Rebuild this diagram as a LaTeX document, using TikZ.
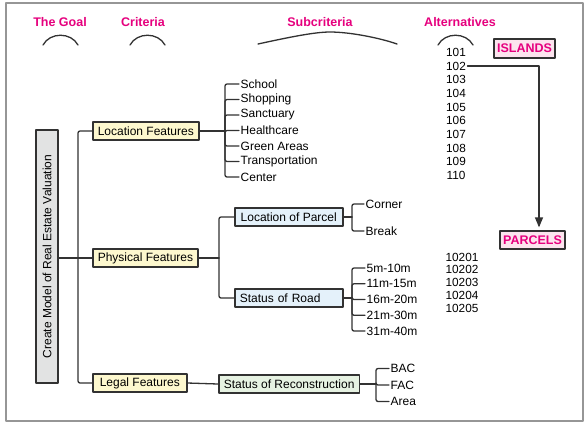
\documentclass[tikz,border=0pt]{standalone}
\usepackage{fontspec}
\setmainfont{Liberation Sans}
\usepackage{tikz}
\usetikzlibrary{arrows}
\definecolor{headpink}{RGB}{230,0,126}
\definecolor{boxline}{RGB}{50,50,50}
\definecolor{framegray}{RGB}{150,150,150}
\definecolor{goalfill}{RGB}{226,227,227}
\definecolor{critfill}{RGB}{253,248,206}
\definecolor{subfill}{RGB}{228,241,250}
\definecolor{recfill}{RGB}{230,242,226}
\definecolor{tagfill}{RGB}{252,228,238}
\tikzset{
  box/.style={draw=boxline, line width=1.5pt, inner xsep=5pt, inner ysep=0pt,
    minimum height=18pt, anchor=west, font=\fontsize{12}{14}\selectfont},
  leaf/.style={inner xsep=1.5pt, inner ysep=0pt, anchor=west,
    font=\fontsize{12}{14}\selectfont},
  num/.style={inner xsep=1.5pt, inner ysep=0pt, font=\fontsize{11.8}{14}\selectfont},
  head/.style={text=headpink, font=\bfseries\fontsize{12.5}{15}\selectfont},
  tag/.style={draw=boxline, fill=tagfill, line width=1.5pt, inner xsep=3pt,
    inner ysep=0pt, minimum height=19pt, text=headpink,
    font=\bfseries\fontsize{12.5}{15}\selectfont},
  link/.style={draw=boxline, line width=1.3pt},
}
\begin{document}
\begin{tikzpicture}[line cap=round,line join=round,>=triangle 45,x=1pt,y=-1pt]
\useasboundingbox (0,0) rectangle (585,424);
\fill[white] (0,0) rectangle (585,424);
\draw[line width=2pt, color=framegray] (6,3) rectangle (583,421);

%otsikot
\node[head] (hgoal) at (60,22) {The Goal};
\node[head] (hcrit) at (143,22) {Criteria};
\node[head] (hsub) at (320,22) {Subcriteria};
\node[head] (halt) at (460,22) {Alternatives};
\draw[link] (43,45) .. controls (50,32) and (71,32) .. (78,45);
\draw[link] (130,45) .. controls (137,32) and (158,32) .. (165,45);
\draw[link] (258,44) .. controls (290,37) and (315,32) .. (330,32)
  .. controls (350,32) and (380,38) .. (397,44);
\draw[link] (438,45) .. controls (445,32) and (466,32) .. (473,45);

%tavoite ja kriteerit
\node[box, fill=goalfill, anchor=center, minimum width=22pt, minimum height=253pt,
  inner xsep=0pt] (goal) at (47,256.5) {\rotatebox{90}{Create Model of Real Estate Valuation}};
\node[box, fill=critfill] (locf) at (92,131) {Location Features};
\node[box, fill=critfill] (physf) at (92,258) {Physical Features};
\node[box, fill=critfill, inner xsep=7pt] (legf) at (92,383) {Legal Features};
\coordinate (trunk) at (78,258);
\draw[link] (goal.east |- physf) -- (physf.west);
\draw[link, rounded corners=2pt] (trunk) |- (locf.west);
\draw[link, rounded corners=2pt] (trunk) |- (legf.west);

%alakriteerit
\node[box, fill=subfill, minimum width=108pt] (parc) at (234,217) {Location of Parcel};
\node[box, fill=subfill, minimum width=108pt, align=left, text width=98pt] (road) at (234,298) {Status of Road};
\node[box, fill=recfill] (recon) at (218,384) {Status of Reconstruction};
\coordinate (phyb) at (219,258);
\draw[link] (physf.east) -- (phyb);
\draw[link, rounded corners=2pt] (phyb) |- (parc.west);
\draw[link, rounded corners=2pt] (phyb) |- (road.west);
\draw[link] (legf.east) -- (recon.west);

%lehdet
\coordinate (locb) at (225,131);
\draw[link] (locf.east) -- (locb);
\foreach \t [count=\i] in {School,Shopping,Sanctuary,Healthcare,Green Areas,Transportation,Center}
{
\node[leaf] (loc\i) at (239,{84+15.5*(\i-1)}) {\t};
\draw[link, rounded corners=2pt] (locb) |- (loc\i.west);
}
\coordinate (parb) at (352,217);
\draw[link] (parc.east) -- (parb);
\foreach \t [count=\i] in {Corner,Break}
{
\node[leaf] (par\i) at (364,{204+27*(\i-1)}) {\t};
\draw[link, rounded corners=2pt] (parb) |- (par\i.west);
}
\coordinate (roadb) at (352,298);
\draw[link] (road.east) -- (roadb);
\foreach \t [count=\i] in {5m-10m,11m-15m,16m-20m,21m-30m,31m-40m}
{
\node[leaf] (road\i) at (365,{268+15.75*(\i-1)}) {\t};
\draw[link, rounded corners=2pt] (roadb) |- (road\i.west);
}
\coordinate (recb) at (376,384);
\draw[link] (recon.east) -- (recb);
\foreach \t [count=\i] in {BAC,FAC,Area}
{
\node[leaf] (rec\i) at (389,{368.5+16.5*(\i-1)}) {\t};
\draw[link, rounded corners=2pt] (recb) |- (rec\i.west);
}

%vaihtoehdot
\foreach \n [count=\i] in {101,...,110}
\node[num] (a\n) at (456,{52.3+13.7*(\i-1)}) {\n};
\foreach \n [count=\i] in {10201,...,10205}
\node[num] (b\n) at (462,{257+12.75*(\i-1)}) {\n};
\node[tag] (islands) at (524.5,48.5) {ISLANDS};
\node[tag, minimum height=18pt] (parcels) at (532.5,240) {PARCELS};
\coordinate (bend) at (539,0);
\draw[link,->,shorten >=3pt] (a102.east) -| (bend |- parcels.north);
\end{tikzpicture}
\end{document}
